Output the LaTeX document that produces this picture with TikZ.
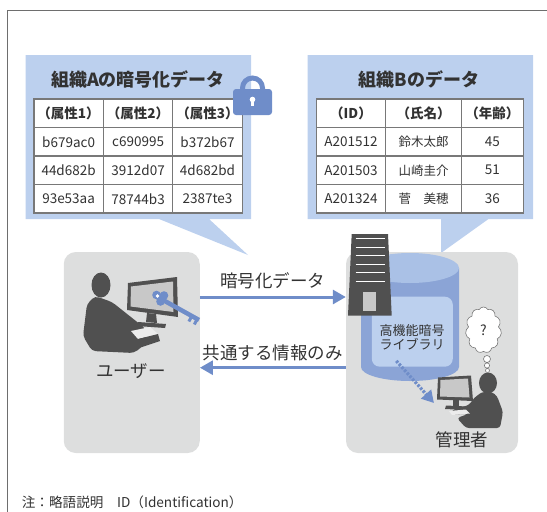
\documentclass[tikz,border=0pt]{standalone}
\usepackage{fontspec}
\setmainfont{Noto Sans CJK JP}
\usepackage{tikz}
\usetikzlibrary{arrows.meta,shapes.symbols}

\definecolor{calloutblue}{RGB}{188,208,238}
\definecolor{flowblue}{RGB}{111,141,201}
\definecolor{panelgray}{RGB}{221,222,222}
\definecolor{darkgray}{RGB}{80,80,80}
\definecolor{screengray}{RGB}{200,200,200}
\definecolor{traygray}{RGB}{236,236,236}
\definecolor{tableline}{RGB}{120,120,120}
\definecolor{textgray}{RGB}{50,50,50}
\definecolor{cylbody}{RGB}{139,164,214}
\definecolor{cyltop}{RGB}{170,193,230}
\definecolor{framegray}{RGB}{110,110,110}

\begin{document}
\begin{tikzpicture}[
                x=1pt, y=-1pt,
                every node/.style={align=center, text=textgray},
                boxtitle/.style={font=\bfseries\fontsize{18}{20}\selectfont},
                cellbox/.style={draw=tableline, line width=1.1pt, fill=white, minimum height=28.5pt, inner sep=0pt, font=\fontsize{13.5}{15}\selectfont},
                headbox/.style={cellbox, font=\bfseries\fontsize{13.5}{15}\selectfont},
                panel/.style={fill=panelgray, rounded corners=12pt, minimum height=201pt},
                flow/.style={draw=flowblue, line width=3pt, -{Triangle[length=13pt,width=14pt]}},
                dotflow/.style={draw=flowblue, line width=3.2pt, dash pattern=on 2.5pt off 1.5pt, -{Triangle[length=12pt,width=13pt]}},
                flowtext/.style={font=\fontsize{17.5}{20}\selectfont, inner sep=2pt},
                roletext/.style={font=\fontsize{17.5}{20}\selectfont}
            ]

            \useasboundingbox (0,0) rectangle (547,512);

            % Frame
            \draw[framegray, line width=1pt] (548,10) -- (7,10) -- (7,513);

            % Callouts
            \fill[calloutblue] (25.5,55) -- (251,55) -- (251,219) -- (209,219) -- (248,255) -- (159,219) -- (25.5,219) -- cycle;
            \fill[calloutblue] (307.5,55) -- (533,55) -- (533,219) -- (488.5,219) -- (441,253) -- (441,219) -- (307.5,219) -- cycle;

            \node[boxtitle] (titleA) at (138,80) {組織Aの暗号化データ};
            \node[boxtitle] (titleB) at (419,80) {組織Bのデータ};

            % Table A
            \foreach \c/\x/\t in {1/68.6/（属性1）, 2/138.1/（属性2）, 3/207.5/（属性3）}
                \node[headbox, minimum width=69.3pt] (a0\c) at (\x,113.25) {\t};
            \foreach \r/\a/\b/\c in {1/b679ac0/c690995/b372b67, 2/44d682b/3912d07/4d682bd, 3/93e53aa/78744b3/2387te3} {
                \node[cellbox, minimum width=69.3pt] (a\r1) at (68.6,113.25+28.5*\r) {\a};
                \node[cellbox, minimum width=69.3pt] (a\r2) at (138.1,113.25+28.5*\r) {\b};
                \node[cellbox, minimum width=69.3pt] (a\r3) at (207.5,113.25+28.5*\r) {\c};
            }

            % Table B
            \foreach \c/\x/\w/\t in {1/351/69.1/（ID）, 2/423.5/75.7/（氏名）, 3/492.4/62.1/（年齢）}
                \node[headbox, minimum width=\w pt] (b0\c) at (\x,113.25) {\t};
            \foreach \r/\a/\b/\c in {1/A201512/鈴木太郎/45, 2/A201503/山崎圭介/51, 3/A201324/菅　美穂/36} {
                \node[cellbox, minimum width=69.1pt] (b\r1) at (351,113.25+28.5*\r) {\a};
                \node[cellbox, minimum width=75.7pt, font=\fontsize{12.5}{15}\selectfont] (b\r2) at (423.5,113.25+28.5*\r) {\b};
                \node[cellbox, minimum width=62.1pt] (b\r3) at (492.4,113.25+28.5*\r) {\c};
            }

            % Lock
            \draw[flowblue, line width=5pt] (242.5,93) -- (242.5,88) arc[start angle=180, end angle=360, radius=10] -- (262.5,93);
            \fill[flowblue, rounded corners=3pt] (233,89) rectangle (272,115);
            \fill[white] (252.5,99.5) circle[radius=2.8];
            \fill[white] (251.3,100) rectangle (253.7,106);

            % Panels
            \node[panel, minimum width=136pt] (user) at (131.75,352.5) {};
            \node[panel, minimum width=172pt] (admin) at (432,352.5) {};

            % Database with library
            \fill[cylbody] (361,268) -- (361,367) arc[start angle=180, end angle=0, x radius=49, y radius=14] -- (459,268) -- cycle;
            \fill[cyltop] (410,268) ellipse[x radius=49, y radius=15];
            \node[fill=calloutblue, rounded corners=8pt, minimum width=81pt, minimum height=70pt] (lib) at (412.3,331.7) {};
            \node[font=\fontsize{13}{14}\selectfont] (libtext) at (412,337) {高機能暗号\\ライブラリ};

            % Server
            \fill[darkgray] (351.7,234) -- (388,234) -- (391.7,315.7) -- (348,315.7) -- cycle;
            \foreach \y in {238.5,247,255.5,264,272.5,281}
                \draw[white, line width=0.9pt] (355.5,\y) -- (385,\y);
            \fill[screengray] (363,291.7) rectangle (375.7,311);

            % Edges
            \draw[flow] ([yshift=55.5pt]user.east) -- node[flowtext, above=5pt] {暗号化データ} ([yshift=55.5pt]admin.west);
            \draw[flow] ([yshift=-15.2pt]admin.west) -- node[flowtext, above=3pt] {共通する情報のみ} ([yshift=-15.2pt]user.east);
            \coordinate (adminpc) at (434,403);
            \draw[dotflow] ([xshift=-16pt,yshift=6pt]lib.south) -- (adminpc);

            % User at the terminal
            \fill[darkgray] (101,285) ellipse[x radius=9.5, y radius=12.5];
            \fill[darkgray, rounded corners=4pt] (95,296) -- (87,304) -- (83,336) -- (92,351) -- (134,353) -- (148,342) -- (146,329) -- (112,302) -- cycle;
            \fill[traygray] (131,331) -- (150,327) -- (158,334) -- (138,339) -- cycle;
            \fill[darkgray] (138,339) -- (158,334) -- (160,341) -- (142,347) -- cycle;
            \fill[darkgray] (128,283) -- (177,277) -- (178,317) -- (127,310) -- cycle;
            \fill[screengray] (131,286.5) -- (173,281.5) -- (173.5,312) -- (130.5,306.5) -- cycle;
            \fill[darkgray] (147,313) -- (156,314) -- (157,323) -- (146,322) -- cycle;
            \fill[darkgray] (138,322) -- (166,324) -- (165,328) -- (137,326) -- cycle;

            % Key
            \fill[flowblue] (156.5,295) circle[radius=4.3] (164,295.5) circle[radius=4.3] (160.5,301.5) circle[radius=4.3] (160,298) circle[radius=4];
            \fill[white] (157.5,296) circle[radius=1.8];
            \draw[flowblue, line width=4.5pt] (163,300) -- (199,320);
            \draw[flowblue, line width=3pt] (191.8,316) -- (188.9,321.5) (197.2,319) -- (194.3,324.5);

            % Administrator
            \fill[darkgray] (438,377.5) -- (471,375.5) -- (473,401) -- (437,399.5) -- cycle;
            \fill[screengray] (440.5,380) -- (468,378.5) -- (469.5,397.5) -- (440,396.5) -- cycle;
            \fill[darkgray] (453,400) rectangle (459,406);
            \fill[darkgray] (446,405.5) -- (467,406.5) -- (466,410) -- (445,409) -- cycle;
            \fill[darkgray] (488,383) ellipse[x radius=9, y radius=10.5];
            \fill[darkgray, rounded corners=3pt] (482,392) -- (474,398) -- (469,405) -- (452,410) -- (451,414.5) -- (468,414) -- (457,418) -- (466,428) -- (500,428) -- (503,412) -- (497,396) -- (492,392) -- cycle;
            \fill[traygray] (449,411) -- (466,409.5) -- (470,413.5) -- (452,415) -- cycle;

            % Thought
            \node[cloud, cloud puffs=11, cloud puff arc=120, aspect=0.8, draw=tableline, line width=0.6pt, fill=white, minimum width=36pt, minimum height=46pt, inner sep=0pt, font=\fontsize{14}{16}\selectfont] (think) at (483.5,330) {?};
            \draw[tableline, line width=0.6pt, fill=white] (487,359) circle[radius=3.5] (487,365.5) circle[radius=2.6] (487.5,370.5) circle[radius=2];

            % Labels
            \node[roletext] (usertext) at (131,371) {ユーザー};
            \node[roletext] (admintext) at (462,440) {管理者};
            \node[anchor=west, inner sep=0pt, font=\fontsize{13.6}{15}\selectfont] (note) at (21.7,502.7) {注：略語説明　ID（Identification）};

            \end{tikzpicture}
\end{document}
